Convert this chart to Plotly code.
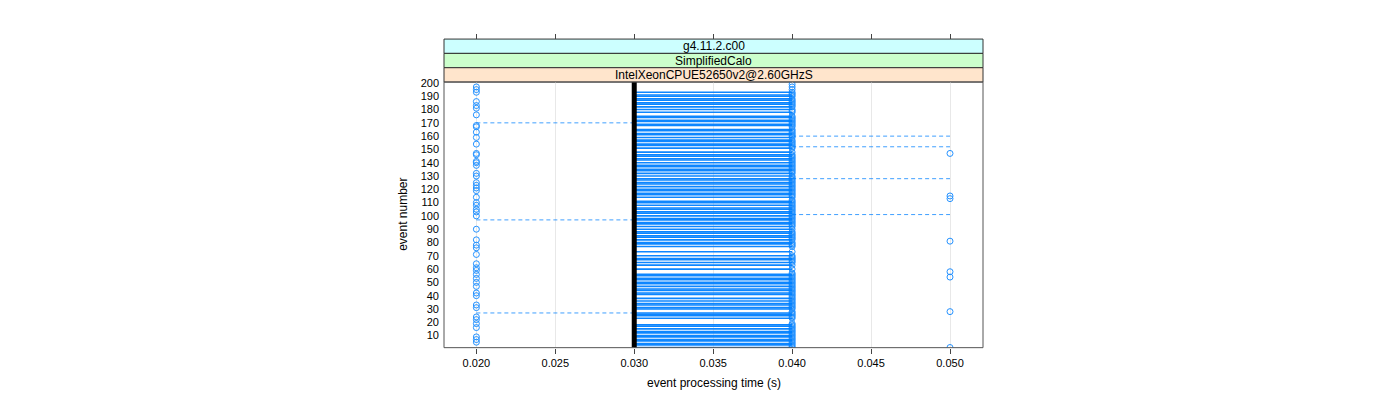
import plotly.graph_objects as go

W, H = 1400, 400

# ---------------- data ----------------
x_tick_vals = [0.020, 0.025, 0.030, 0.035, 0.040, 0.045, 0.050]
x_tick_text = ["0.020", "0.025", "0.030", "0.035", "0.040", "0.045", "0.050"]
y_tick_vals = [10, 20, 30, 40, 50, 60, 70, 80, 90, 100, 110, 120, 130, 140, 150, 160, 170, 180, 190, 200]
y_tick_text = [str(v) for v in y_tick_vals]

reference_time = 0.030  # thick black vertical line

# events whose processing time was 0.020 s
events_t020 = [5, 7, 9, 16, 19, 22, 24, 31, 33, 40, 42, 47, 50, 53, 56, 59, 61, 64, 71, 76, 78, 82, 90,
               100, 103, 105, 108, 110, 114, 119, 121, 123, 125, 130, 132, 138, 140, 141, 146, 147, 154,
               159, 163, 167, 168, 176, 181, 183, 186, 193, 195, 197]
# events whose processing time was 0.050 s
events_t050 = [1, 28, 54, 58, 81, 113, 115, 147]
# events whose processing time was 0.040 s
events_t040 = [1, 2, 3, 4, 5, 6, 7, 8, 9, 10, 11, 12, 13, 14, 15, 16, 17, 18, 19, 23, 24, 25, 26, 27, 28,
               30, 31, 32, 33, 34, 35, 36, 37, 38, 39, 40, 41, 42, 43, 44, 45, 46, 47, 48, 49, 50, 51, 52,
               53, 54, 55, 56, 57, 60, 63, 65, 66, 67, 68, 69, 70, 73, 77, 78, 79, 80, 82, 83, 84, 85, 86,
               87, 88, 90, 92, 93, 94, 95, 96, 97, 98, 99, 100, 101, 102, 103, 104, 105, 106, 107, 108,
               109, 110, 111, 112, 114, 115, 116, 117, 118, 119, 120, 121, 122, 123, 124, 125, 126, 127,
               128, 129, 130, 132, 133, 134, 135, 136, 137, 138, 139, 140, 141, 142, 143, 144, 145, 146,
               148, 151, 152, 153, 154, 155, 156, 157, 159, 160, 161, 162, 163, 164, 165, 167, 168, 169,
               170, 171, 172, 173, 174, 175, 178, 179, 180, 182, 183, 184, 185, 186, 187, 188, 190, 191,
               192, 193, 195, 197, 199]
# solid connecting segments 0.030 -> 0.040
events_seg_030_040 = [1, 3, 4, 6, 7, 9, 10, 12, 13, 15, 17, 18, 23, 25, 26, 27, 30, 31, 33, 34, 36, 38,
                      41, 42, 44, 45, 47, 49, 50, 52, 53, 55, 56, 60, 63, 65, 67, 68, 70, 73, 77, 79,
                      80, 82, 84, 85, 87, 88, 90, 92, 94, 95, 97, 98, 100, 102, 103, 105, 106, 108, 110,
                      111, 114, 116, 117, 119, 120, 122, 124, 125, 127, 128, 130, 132, 134, 135, 137,
                      138, 140, 142, 143, 145, 146, 148, 151, 153, 154, 156, 157, 159, 161, 162, 164,
                      165, 168, 169, 171, 172, 174, 175, 178, 180, 182, 184, 185, 187, 188, 190, 191,
                      193]
# dashed segments
events_dash_020_030 = [27, 97, 170]
events_dash_040_050 = [101, 128, 152, 160]

strip_labels = ["g4.11.2.c00", "SimplifiedCalo", "IntelXeonCPUE52650v2@2.60GHzS"]
strip_colors = ["#ccffff", "#ccffcc", "#ffe5cc"]

# ---------------- layout geometry (pixels) ----------------
px_left, px_right = 444, 983
px_top, px_bottom = 78, 347
strip_top = 34.5
strip_h = (px_top - strip_top) / 3


def fx(px):
    return px / W


def fy(py):
    return 1 - py / H


BLUE = "#0080ff"
FONT = "Liberation Sans, Arial, Helvetica, sans-serif"

fig = go.Figure()


def seg_trace(events, x0, x1, dash, width, opacity):
    xs, ys = [], []
    for e in events:
        xs += [x0, x1, None]
        ys += [e, e, None]
    return go.Scatter(x=xs, y=ys, mode="lines", line=dict(color=BLUE, width=width, dash=dash),
                      opacity=opacity, hoverinfo="skip", showlegend=False)


fig.add_trace(seg_trace(events_seg_030_040, 0.030, 0.040, "solid", 1.6, 0.95))
fig.add_trace(seg_trace(events_dash_020_030, 0.020, 0.030, "4px,3px", 1, 0.75))
fig.add_trace(seg_trace(events_dash_040_050, 0.040, 0.050, "4px,3px", 1, 0.75))

marker = dict(symbol="circle-open", size=6, color=BLUE, line=dict(width=1, color=BLUE))
fig.add_trace(go.Scatter(x=[0.020] * len(events_t020), y=events_t020, mode="markers",
                         marker=marker, opacity=0.85, showlegend=False))
fig.add_trace(go.Scatter(x=[0.040] * len(events_t040), y=events_t040, mode="markers",
                         marker=marker, opacity=0.85, showlegend=False))
fig.add_trace(go.Scatter(x=[0.050] * len(events_t050), y=events_t050, mode="markers",
                         marker=marker, opacity=0.85, showlegend=False))

y_range = [0.9, 200.7]
x_range = [0.01795, 0.05209]

# thick black reference line, on the top (overlaying) x axis so it is drawn on top
fig.add_trace(go.Scatter(x=[reference_time, reference_time], y=y_range, mode="lines",
                         line=dict(color="black", width=5), xaxis="x2", showlegend=False,
                         hoverinfo="skip"))

fig.update_layout(
    width=W, height=H, autosize=False,
    margin=dict(l=0, r=0, t=0, b=0),
    paper_bgcolor="white", plot_bgcolor="white",
    font=dict(family=FONT, size=11, color="black"),
    xaxis=dict(domain=[fx(px_left), fx(px_right)], range=x_range,
               tickvals=x_tick_vals, ticktext=x_tick_text,
               ticks="outside", ticklen=5, tickcolor="#444", tickwidth=1,
               showgrid=True, gridcolor="#e8e8e8", gridwidth=1,
               zeroline=False, showline=False,
               tickfont=dict(family=FONT, size=11, color="black")),
    xaxis2=dict(overlaying="x", range=x_range, side="top", anchor="free",
                position=fy(strip_top), tickvals=x_tick_vals,
                ticks="outside", ticklen=5, tickcolor="#444", tickwidth=1,
                showticklabels=False, showgrid=False, zeroline=False, showline=False),
    yaxis=dict(domain=[fy(px_bottom), fy(px_top)], range=y_range,
               tickvals=y_tick_vals, ticktext=y_tick_text, ticks="",
               ticklabelstandoff=4,
               showgrid=False, zeroline=False, showline=False,
               tickfont=dict(family=FONT, size=11, color="black")),
    showlegend=False,
)

shapes = []
# panel box
shapes.append(dict(type="rect", xref="paper", yref="paper",
                   x0=fx(px_left), x1=fx(px_right), y0=fy(px_bottom), y1=fy(px_top),
                   line=dict(color="#555", width=1), fillcolor="rgba(0,0,0,0)", layer="above"))
annotations = []
for i, (lab, col) in enumerate(zip(strip_labels, strip_colors)):
    top = strip_top + i * strip_h
    bot = top + strip_h
    shapes.append(dict(type="rect", xref="paper", yref="paper",
                       x0=fx(px_left), x1=fx(px_right), y0=fy(bot), y1=fy(top),
                       line=dict(color="#333", width=1), fillcolor=col, layer="below"))
    annotations.append(dict(text=lab, xref="paper", yref="paper",
                            x=fx((px_left + px_right) / 2), y=fy((top + bot) / 2),
                            showarrow=False, xanchor="center", yanchor="middle",
                            font=dict(family=FONT, size=12, color="black")))

annotations.append(dict(text="event processing time (s)", xref="paper", yref="paper",
                        x=fx((px_left + px_right) / 2), y=fy(383), showarrow=False,
                        xanchor="center", yanchor="middle",
                        font=dict(family=FONT, size=12, color="black")))
annotations.append(dict(text="event number", xref="paper", yref="paper",
                        x=fx(403), y=fy((px_top + px_bottom) / 2), showarrow=False,
                        textangle=-90, xanchor="center", yanchor="middle",
                        font=dict(family=FONT, size=12, color="black")))

fig.update_layout(shapes=shapes, annotations=annotations)

fig.write_html("out.html")
